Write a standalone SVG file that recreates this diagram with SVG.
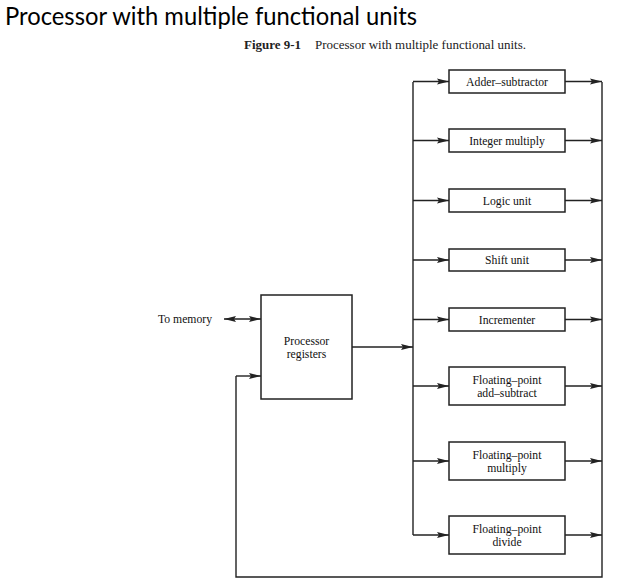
<svg xmlns="http://www.w3.org/2000/svg" width="633" height="588" viewBox="0 0 633 588">
<style>
.title{font-family:Lato,"Open Sans","Liberation Sans",sans-serif;font-size:25px;fill:#000}
.cap{font-family:"Liberation Serif","DejaVu Serif",serif;font-size:12px;fill:#222}
.lbl{font-family:"Liberation Serif","DejaVu Serif",serif;font-size:11.7px;fill:#111;text-anchor:middle}
.box{fill:#fff;stroke:#222;stroke-width:1.5}
.ln{fill:none;stroke:#222;stroke-width:1.4}
</style>
<defs>
<marker id="ah" markerWidth="13" markerHeight="8" refX="12" refY="4" orient="auto" markerUnits="userSpaceOnUse">
<path d="M0,1 L12,4 L0,7 L2,4 z" fill="#222"/>
</marker>
<marker id="ahs" markerWidth="13" markerHeight="8" refX="1" refY="4" orient="auto" markerUnits="userSpaceOnUse">
<path d="M13,1 L1,4 L13,7 L11,4 z" fill="#222"/>
</marker>
</defs>
<rect width="633" height="588" fill="#fff"/>
<text class="title" x="5" y="25" textLength="412" lengthAdjust="spacingAndGlyphs">Processor with multiple functional units</text>
<text class="cap" y="49"><tspan x="244" font-weight="bold" textLength="57" lengthAdjust="spacingAndGlyphs">Figure 9-1</tspan><tspan x="315" textLength="211" lengthAdjust="spacingAndGlyphs">Processor with multiple functional units.</tspan></text>

<g id="connectors">
<polyline class="ln" points="413,82 413,535"/>
<polyline class="ln" points="602,82 602,577 236,577 236,376"/>
<line class="ln" x1="236" y1="376" x2="261" y2="376" marker-end="url(#ah)"/>
<line class="ln" x1="352" y1="347" x2="413" y2="347" marker-end="url(#ah)"/>
<line class="ln" x1="224" y1="319" x2="261" y2="319" marker-start="url(#ahs)" marker-end="url(#ah)"/>
<line class="ln" x1="413" y1="81.5" x2="449" y2="81.5" marker-end="url(#ah)"/>
<line class="ln" x1="413" y1="140.5" x2="449" y2="140.5" marker-end="url(#ah)"/>
<line class="ln" x1="413" y1="200.5" x2="449" y2="200.5" marker-end="url(#ah)"/>
<line class="ln" x1="413" y1="260" x2="449" y2="260" marker-end="url(#ah)"/>
<line class="ln" x1="413" y1="319.5" x2="449" y2="319.5" marker-end="url(#ah)"/>
<line class="ln" x1="413" y1="386" x2="449" y2="386" marker-end="url(#ah)"/>
<line class="ln" x1="413" y1="461" x2="449" y2="461" marker-end="url(#ah)"/>
<line class="ln" x1="413" y1="535" x2="449" y2="535" marker-end="url(#ah)"/>
<line class="ln" x1="565" y1="81.5" x2="602" y2="81.5" marker-end="url(#ah)"/>
<line class="ln" x1="565" y1="140.5" x2="602" y2="140.5" marker-end="url(#ah)"/>
<line class="ln" x1="565" y1="200.5" x2="602" y2="200.5" marker-end="url(#ah)"/>
<line class="ln" x1="565" y1="260" x2="602" y2="260" marker-end="url(#ah)"/>
<line class="ln" x1="565" y1="319.5" x2="602" y2="319.5" marker-end="url(#ah)"/>
<line class="ln" x1="565" y1="386" x2="602" y2="386" marker-end="url(#ah)"/>
<line class="ln" x1="565" y1="461" x2="602" y2="461" marker-end="url(#ah)"/>
<line class="ln" x1="565" y1="535" x2="602" y2="535" marker-end="url(#ah)"/>
</g>

<g id="to-memory"><text class="lbl" x="185" y="323">To memory</text></g>

<g id="processor-registers">
<rect class="box" x="261" y="295" width="91" height="104"/>
<text class="lbl" x="306.5" y="345">Processor</text>
<text class="lbl" x="306.5" y="358">registers</text>
</g>

<g id="adder-subtractor"><rect class="box" x="449" y="70" width="116" height="23"/><text class="lbl" x="507" y="85.5">Adder–subtractor</text></g>
<g id="integer-multiply"><rect class="box" x="449" y="129" width="116" height="23"/><text class="lbl" x="507" y="144.5">Integer multiply</text></g>
<g id="logic-unit"><rect class="box" x="449" y="189" width="116" height="23"/><text class="lbl" x="507" y="204.5">Logic unit</text></g>
<g id="shift-unit"><rect class="box" x="449" y="249" width="116" height="22"/><text class="lbl" x="507" y="264">Shift unit</text></g>
<g id="incrementer"><rect class="box" x="449" y="308" width="116" height="23"/><text class="lbl" x="507" y="323.5">Incrementer</text></g>
<g id="fp-add-subtract"><rect class="box" x="449" y="367" width="116" height="38"/><text class="lbl" x="507" y="384">Floating–point</text><text class="lbl" x="507" y="397">add–subtract</text></g>
<g id="fp-multiply"><rect class="box" x="449" y="442" width="116" height="38"/><text class="lbl" x="507" y="459">Floating–point</text><text class="lbl" x="507" y="472">multiply</text></g>
<g id="fp-divide"><rect class="box" x="449" y="516" width="116" height="38"/><text class="lbl" x="507" y="533">Floating–point</text><text class="lbl" x="507" y="546">divide</text></g>
</svg>
